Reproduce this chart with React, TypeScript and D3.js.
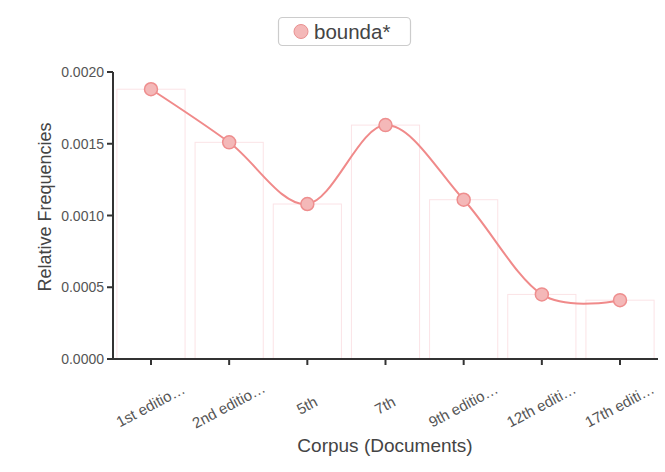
import React from "react";
import * as d3 from "d3";

const categories = ["1st editio…", "2nd editio…", "5th", "7th", "9th editio…", "12th editi…", "17th editi…"];
const values = [0.00188, 0.00151, 0.00108, 0.00163, 0.00111, 0.00045, 0.00041];
const yTicks = [0, 0.0005, 0.001, 0.0015, 0.002];
const seriesName = "bounda*";

const W = 665, H = 472;
const left = 113, right = 658, top = 72, bottom = 359;

export default function App() {
  const x = d3.scaleBand<string>().domain(categories).range([left, right]).paddingInner(0.128).paddingOuter(0.05);
  const y = d3.scaleLinear().domain([0, 0.002]).range([bottom, top]);
  const pts: [number, number][] = values.map((v, i) => [x(categories[i])! + x.bandwidth() / 2, y(v)]);
  const line = d3.line().curve(d3.curveCardinal)(pts) || "";
  const font = "'Liberation Sans', Arial, sans-serif";
  return (
    <svg width={W} height={H} style={{ position: "absolute", left: 0, top: 0, background: "#fff" }} fontFamily={font}>
      {/* legend */}
      <rect x={278.5} y={17.5} width={132} height={28} rx={4} fill="#fff" stroke="#ccc" strokeWidth={1.2} />
      <circle cx={301} cy={31.5} r={7} fill="#f4b8b8" stroke="#e99090" strokeWidth={1} />
      <text x={314} y={38.5} fontSize={20.5} fill="#444">{seriesName}</text>
      {/* bars */}
      {values.map((v, i) => (
        <rect key={i} x={x(categories[i])} y={y(v)} width={x.bandwidth()} height={bottom - y(v)}
          fill="none" stroke="#fbe3e6" strokeWidth={1} />
      ))}
      {/* y axis */}
      <line x1={left} x2={left} y1={top} y2={bottom} stroke="#333" strokeWidth={2} />
      {yTicks.map((t) => (
        <g key={t}>
          <line x1={left - 6} x2={left} y1={y(t)} y2={y(t)} stroke="#333" strokeWidth={2} />
          <text x={left - 9} y={y(t) + 5} fontSize={14} textAnchor="end" fill="#555">{t.toFixed(4)}</text>
        </g>
      ))}
      {/* x axis */}
      <line x1={left} x2={right} y1={bottom} y2={bottom} stroke="#333" strokeWidth={2} />
      {categories.map((c) => {
        const cx = x(c)! + x.bandwidth() / 2;
        return (
          <g key={c}>
            <line x1={cx} x2={cx} y1={bottom} y2={bottom + 6} stroke="#333" strokeWidth={2} />
            <text transform={`translate(${cx + 2},${bottom + 51}) rotate(-28)`} fontSize={15} textAnchor="middle" fill="#555">{c}</text>
          </g>
        );
      })}
      {/* line */}
      <path d={line} fill="none" stroke="#f08a8a" strokeWidth={2} />
      {pts.map((p, i) => (
        <circle key={i} cx={p[0]} cy={p[1]} r={6.5} fill="#f4b8b8" stroke="#ee8e8e" strokeWidth={1.5} />
      ))}
      {/* axis titles */}
      <text transform={`translate(51,207) rotate(-90)`} fontSize={18} textAnchor="middle" fill="#444">Relative Frequencies</text>
      <text x={385} y={452} fontSize={19} textAnchor="middle" fill="#444">Corpus (Documents)</text>
    </svg>
  );
}
